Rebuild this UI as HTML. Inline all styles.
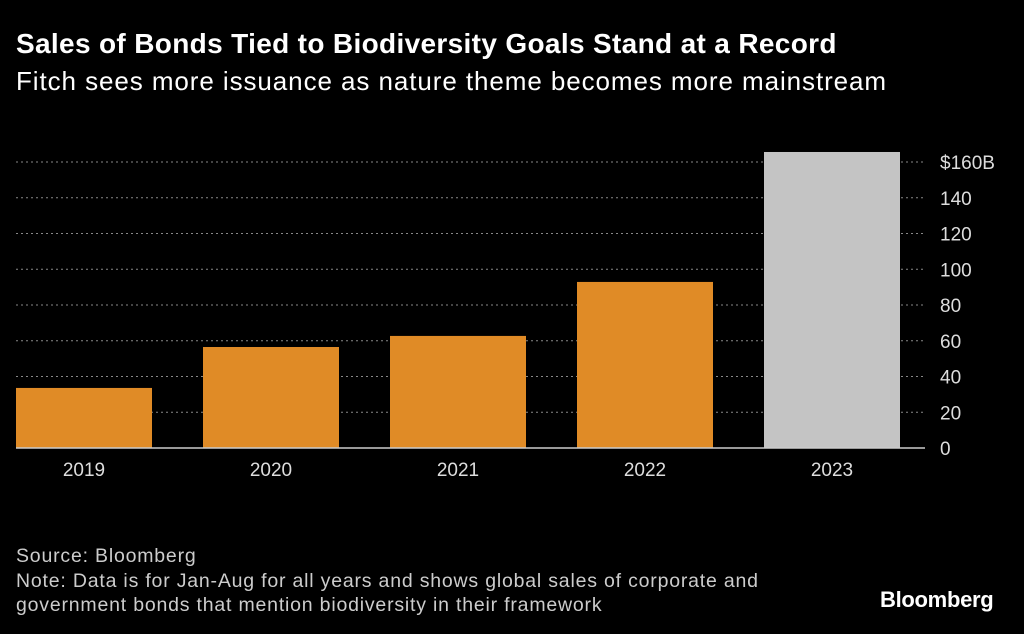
<!DOCTYPE html>
<html><head><meta charset="utf-8"><style>
body{margin:0;background:#000;width:1024px;height:634px;overflow:hidden;font-family:"Liberation Sans",sans-serif;color:#fff}
.t{position:absolute;left:16px;white-space:nowrap}
</style></head><body>
<div class="t" style="top:28px;font-size:28px;font-weight:bold;letter-spacing:0.34px">Sales of Bonds Tied to Biodiversity Goals Stand at a Record</div>
<div class="t" style="top:66px;font-size:26px;letter-spacing:0.92px">Fitch sees more issuance as nature theme becomes more mainstream</div>
<svg width="1024" height="634" style="position:absolute;left:0;top:0" id="chart"></svg>
<div class="t" style="top:544px;font-size:19.5px;color:#ccc;line-height:24.5px;letter-spacing:0.8px">Source: Bloomberg<br>Note: Data is for Jan-Aug for all years and shows global sales of corporate and<br>government bonds that mention biodiversity in their framework</div>
<div style="position:absolute;left:880px;top:587px;font-size:22px;font-weight:bold;letter-spacing:-0.3px">Bloomberg</div>
<script>
const categories=["2019","2020","2021","2022","2023"];
const values=[33.6,56.5,62.7,92.9,165.6];
const colors=["#e08b26","#e08b26","#e08b26","#e08b26","#c4c4c4"];
const ticks=[0,20,40,60,80,100,120,140,160];
const tickLabels=["0","20","40","60","80","100","120","140","$160B"];
const svg=document.getElementById('chart');
const NS="http://www.w3.org/2000/svg";
const y0=448,y1=162;
const y=v=>y0-(v/160)*(y0-y1);
const x=i=>84+i*187;
function mk(t,a){const e=document.createElementNS(NS,t);for(const k in a)e.setAttribute(k,a[k]);svg.appendChild(e);return e;}
ticks.forEach((t,i)=>{
  if(t>0){const g=mk('line',{x1:16,x2:925,y1:y(t),y2:y(t),stroke:'#888','stroke-dasharray':'2,3','stroke-width':1});
  
  }
  const l=mk('text',{x:940,y:y(t)+7,fill:'#ddd','font-size':19,'font-family':'Liberation Sans'});
  l.textContent=tickLabels[i];
  
  
});
categories.forEach((c,i)=>{
  const b=mk('rect',{x:x(i)-68,width:136,y:y(values[i]),height:y0-y(values[i]),fill:colors[i]});
  
  
  const l=mk('text',{x:x(i),y:476,fill:'#ddd','font-size':19,'text-anchor':'middle','font-family':'Liberation Sans'});
  l.textContent=c;
  
  
});
const base=mk('line',{x1:16,x2:925,y1:y0,y2:y0,stroke:'#ccc','stroke-width':1.5});


</script>
</body></html>
